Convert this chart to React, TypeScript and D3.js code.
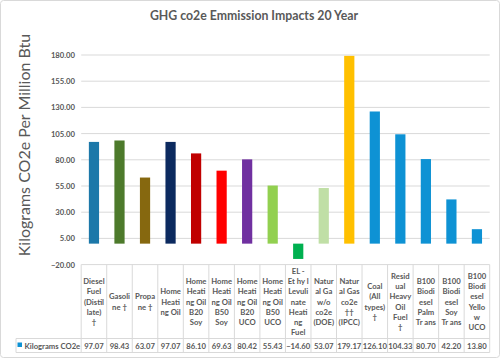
import React from 'react';
import * as d3 from 'd3';

const categories: string[][] = [
  ['Diesel', 'Fuel', '(Distil', 'late)', '†'],
  ['Gasoli', 'ne †'],
  ['Propa', 'ne †'],
  ['Home', 'Heati', 'ng Oil'],
  ['Home', 'Heati', 'ng Oil', 'B20', 'Soy'],
  ['Home', 'Heati', 'ng Oil', 'B50', 'Soy'],
  ['Home', 'Heati', 'ng Oil', 'B20', 'UCO'],
  ['Home', 'Heati', 'ng Oil', 'B50', 'UCO'],
  ['EL -', 'Et hy l', 'Levuli', 'nate', 'Heati', 'ng', 'Fuel'],
  ['Natur', 'al Ga', 'w/o', 'co2e', '(DOE)'],
  ['Natur', 'al Gas', 'co2e', '††', '(IPCC)'],
  ['Coal', '(All', 'types)', '†'],
  ['Resid', 'ual', 'Heavy', 'Oil', 'Fuel', '†'],
  ['B100', 'Biodi', 'esel', 'Palm', 'Tr ans'],
  ['B100', 'Biodi', 'esel', 'Soy', 'Tr ans'],
  ['B100', 'Biodi', 'esel', 'Yello', 'w', 'UCO'],
];

const values = [
  97.07, 98.43, 63.07, 97.07, 86.1, 69.63, 80.42, 55.43, -14.6, 53.07, 179.17,
  126.1, 104.33, 80.7, 42.2, 13.8,
];

const barColors = [
  '#1c78a9', '#4d7a2b', '#86680f', '#0c2a5f', '#c00000', '#ff0000', '#7030a0',
  '#92d050', '#00b050', '#c0dfa6', '#ffc000', '#0e92d4', '#0e92d4', '#0e92d4',
  '#0e92d4', '#0e92d4',
];

const yTicks = [-20, 5, 30, 55, 80, 105, 130, 155, 180];

const seriesName = 'Kilograms CO2e';
const title = 'GHG co2e Emmission Impacts 20 Year';
const yTitle = 'Kilograms CO2e Per Million Btu';

const font = 'Lato, "Open Sans", sans-serif';
const textColor = '#595959';
const gridColor = '#d9d9d9';
const smallSize = 7.7;

export default function App() {
  const width = 500;
  const height = 358;
  const left = 81.2;
  const right = 489.7;

  const ids = categories.map((_, i) => String(i));
  const x = d3.scaleBand<string>().domain(ids).range([left, right]).padding(0);
  const y = d3.scaleLinear().domain([-20, 180]).range([264.6, 55]);

  const band = x.bandwidth();
  const barW = band * 0.4;
  const tableTop = y(-20);
  const headerBottom = 338.5;
  const tableBottom = 352.5;
  const headerMid = (tableTop + headerBottom) / 2;
  const lineH = 10.2;

  return (
    <svg
      width={width}
      height={height}
      style={{ position: 'absolute', left: 0, top: 0, background: '#fff' }}
      fontFamily={font}
    >
      <rect x={0.5} y={0.5} width={width - 1} height={height - 1} rx={3} fill="#fff" stroke={gridColor} />
      <text x={254} y={15.5} textAnchor="middle" dominantBaseline="central" fontSize={12.3} fontWeight="bold" fill={textColor}>
        {title}
      </text>
      <text
        transform={`translate(23,${145}) rotate(-90)`}
        textAnchor="middle"
        dominantBaseline="central"
        fontSize={16}
        fill={textColor}
      >
        {yTitle}
      </text>

      {yTicks.map((t) => (
        <g key={t}>
          <line x1={left} x2={right} y1={y(t)} y2={y(t)} stroke={gridColor} strokeWidth={1} />
          <text x={75} y={y(t)} textAnchor="end" dominantBaseline="central" fontSize={smallSize} fontWeight="bold" fill={textColor}>
            {d3.format('.2f')(t)}
          </text>
        </g>
      ))}

      {values.map((v, i) => (
        <rect
          key={i}
          x={(x(String(i)) as number) + (band - barW) / 2}
          y={y(Math.max(0, v))}
          width={barW}
          height={Math.abs(y(v) - y(0))}
          fill={barColors[i]}
        />
      ))}

      {/* data table */}
      <line x1={16} x2={right} y1={headerBottom} y2={headerBottom} stroke={gridColor} />
      <line x1={16} x2={right} y1={tableBottom} y2={tableBottom} stroke={gridColor} />
      <line x1={16} x2={16} y1={headerBottom} y2={tableBottom} stroke={gridColor} />
      {ids.map((id) => (
        <line key={id} x1={x(id)} x2={x(id)} y1={tableTop} y2={tableBottom} stroke={gridColor} />
      ))}
      <line x1={right} x2={right} y1={tableTop} y2={tableBottom} stroke={gridColor} />

      {categories.map((lines, i) => {
        const cx = (x(String(i)) as number) + band / 2;
        const y0 = headerMid - ((lines.length - 1) * lineH) / 2;
        return (
          <text key={i} textAnchor="middle" fontSize={smallSize} fontWeight="bold" fill={textColor}>
            {lines.map((l, j) => (
              <tspan key={j} x={cx} y={y0 + j * lineH} dominantBaseline="central">
                {l}
              </tspan>
            ))}
          </text>
        );
      })}

      <rect x={17.5} y={342.5} width={4.5} height={4.5} fill="#0e92d4" />
      <clipPath id="legendClip">
        <rect x={16} y={headerBottom} width={left - 16} height={tableBottom - headerBottom} />
      </clipPath>
      <text x={24.5} y={(headerBottom + tableBottom) / 2} dominantBaseline="central" fontSize={smallSize} fontWeight="bold" fill={textColor} clipPath="url(#legendClip)">
        {seriesName}
      </text>
      {values.map((v, i) => (
        <text
          key={i}
          x={(x(String(i)) as number) + band / 2}
          y={(headerBottom + tableBottom) / 2}
          textAnchor="middle"
          dominantBaseline="central"
          fontSize={smallSize}
          fontWeight="bold"
          fill={textColor}
        >
          {d3.format('.2f')(v)}
        </text>
      ))}
    </svg>
  );
}
